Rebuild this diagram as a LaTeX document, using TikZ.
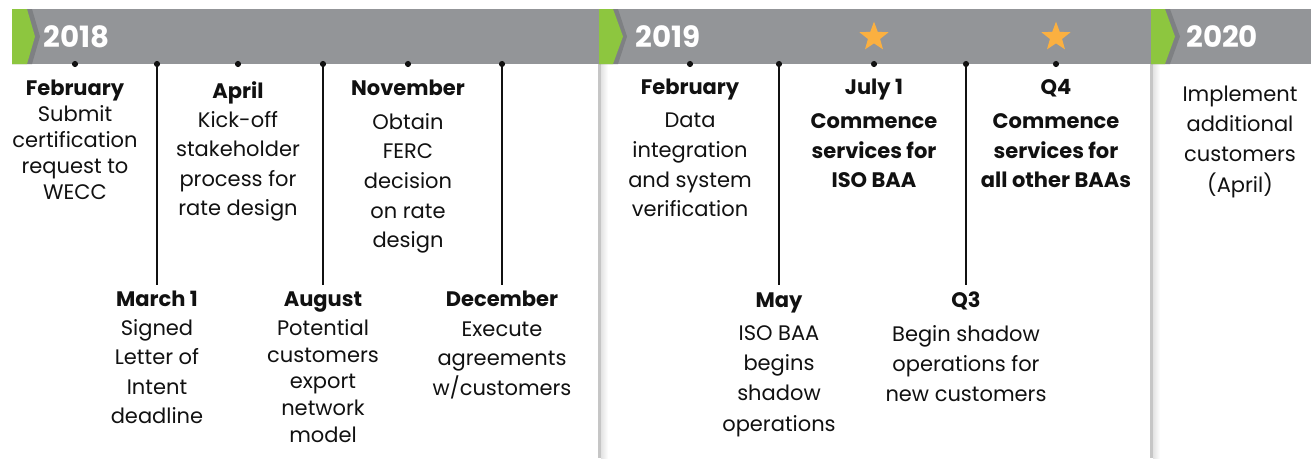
\documentclass[tikz,border=0pt]{standalone}
\usepackage{fontspec}
\setmainfont{Poppins}
\usetikzlibrary{shapes.geometric}
\definecolor{band}{HTML}{939598}
\definecolor{bandd}{HTML}{7E8083}
\definecolor{grn}{HTML}{8DC63F}
\definecolor{staro}{HTML}{FBB040}
\definecolor{ink}{HTML}{111111}
\newcommand\fl{\rule{0pt}{12pt}}
\tikzset{
  x=0.75pt, y=-0.75pt,
  year/.style={anchor=west, inner sep=0pt, text=white, font=\fontsize{22}{24}\bfseries\selectfont},
  evt/.style={align=center, inner sep=0pt, anchor=north, text=ink, font=\fontsize{15.75}{#1}\selectfont},
  evtb/.style={align=center, inner sep=0pt, anchor=north, text=ink, font=\fontsize{15.75}{#1}\bfseries\selectfont},
  dotm/.style={circle, fill=ink, inner sep=0pt, minimum size=4.6pt},
  conn/.style={draw=ink, line width=1.1pt},
  starm/.style={star, star points=5, star point ratio=2.4, fill=staro, inner sep=0pt, minimum size=23pt},
}
\begin{document}
\begin{tikzpicture}
\useasboundingbox (0,0) rectangle (1311,458);
\fill[white] (0,0) rectangle (1311,458);
% band
\fill[band] (12,9) rectangle (1311,64);
% separators
\fill[gray!45] (598,64) rectangle (601,458);
\shade[left color=gray!22, right color=white] (601,64) rectangle (608,458);
\fill[gray!45] (1150,64) rectangle (1153,458);
\shade[left color=gray!22, right color=white] (1153,64) rectangle (1160,458);
% chevrons
\fill[bandd] (12,9) -- (32,9) -- (40,36.5) -- (32,64) -- (12,64) -- cycle;
\fill[grn] (12,9) -- (27,9) -- (35,36.5) -- (27,64) -- (12,64) -- cycle;
\fill[bandd] (599,9) -- (618,9) -- (627,36.5) -- (618,64) -- (599,64) -- cycle;
\fill[grn] (599,9) -- (613,9) -- (623,36.5) -- (613,64) -- (599,64) -- cycle;
\fill[bandd] (1151,9) -- (1170,9) -- (1180,36.5) -- (1170,64) -- (1151,64) -- cycle;
\fill[grn] (1151,9) -- (1165,9) -- (1175,36.5) -- (1165,64) -- (1151,64) -- cycle;
% years
\node[year] (y18) at (43,37) {2018};
\node[year] (y19) at (635,37) {2019};
\node[year] (y20) at (1186,37) {2020};
% stars
\node[starm] (s1) at (874,37) {};
\node[starm] (s2) at (1056,37) {};
% dots
\node[dotm] (d1) at (75,64) {};
\node[dotm] (d2) at (157,64) {};
\node[dotm] (d3) at (238,64) {};
\node[dotm] (d4) at (323,64) {};
\node[dotm] (d5) at (408,64) {};
\node[dotm] (d6) at (502,64) {};
\node[dotm] (d7) at (690,64) {};
\node[dotm] (d8) at (779,64) {};
\node[dotm] (d9) at (874,64) {};
\node[dotm] (d10) at (966,64) {};
\node[dotm] (d11) at (1056,64) {};
\coordinate (e2) at (157,285);
\coordinate (e4) at (323,285);
\coordinate (e6) at (502,285);
\coordinate (e8) at (779,285);
\coordinate (e10) at (966,285);
\draw[conn] (d2.center) -- (e2);
\draw[conn] (d4.center) -- (e4);
\draw[conn] (d6.center) -- (e6);
\draw[conn] (d8.center) -- (e8);
\draw[conn] (d10.center) -- (e10);
% 2018 top
\node[evt=19.5pt] (t1) at (75,79) {\fl\textbf{February}\\[0pt] Submit\\ certification\\ request to\\ WECC};
\node[evt=22pt] (t3) at (238,81) {\fl\textbf{April}\\ Kick-off\\ stakeholder\\ process for\\ rate design};
\node[evt=22.3pt] (t5) at (408,79) {\fl\textbf{November}\\[3pt] Obtain\\ FERC\\ decision\\ on rate\\ design};
% 2018 bottom
\node[evt=22pt] (t2) at (157,290) {\fl\textbf{March 1}\\ Signed\\ Letter of\\ Intent\\ deadline};
\node[evt=20pt] (t4) at (323,290) {\fl\textbf{August}\\[2pt] Potential\\ customers\\ export\\ network\\ model};
\node[evt=22.3pt] (t6) at (502,290) {\fl\textbf{December}\\ Execute\\ agreements\\ w/customers};
% 2019 top
\node[evt=22.25pt] (t7) at (690,78) {\fl\textbf{February}\\[3pt] Data\\ integration\\ and system\\ verification};
\node[evtb=22pt] (t9) at (874,78) {\fl July 1\\[4pt] Commence\\ services for\\ ISO BAA};
\node[evtb=22pt] (t11) at (1056,78) {\fl Q4\\[4pt] Commence\\ services for\\ all other BAAs};
% 2019 bottom
\node[evt=22.7pt] (t8) at (779,291) {\fl\textbf{May}\\[2pt] ISO BAA\\ begins\\ shadow\\ operations};
\node[evt=22.5pt] (t10) at (966,291) {\fl\textbf{Q3}\\[3pt] Begin shadow\\ operations for\\ new customers};
% 2020
\node[evt=22.7pt] (t12) at (1240,85) {\fl Implement\\ additional\\ customers\\ (April)};
\end{tikzpicture}
\end{document}
